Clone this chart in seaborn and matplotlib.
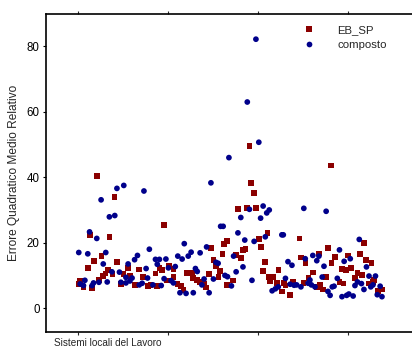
import matplotlib
matplotlib.use("Agg")
import matplotlib.pyplot as plt
import seaborn as sns
import pandas as pd

# ---- data ----
series_names = ["EB_SP", "composto"]

ebsp_x = [5.2, 3.3, 8.7, 6.5, 4.5, 2.7, 8.3, 7.6, 6.9, 0.6, 0.1, 1.5, 3.9, 5.9,
          10.1, 10.8, 13.9, 17.0, 9.6, 12.6, 14.4, 18.1, 11.9, 15.8, 19.4,
          23.9, 22.6, 23.3, 25.2, 26.5, 21.5, 30.2, 24.8, 27.6, 28.5, 21.9, 20.1, 29.3, 26.5,
          41.3, 40.6, 37.0, 40.1, 37.6, 38.3, 39.4, 36.4, 39.0, 31.6, 31.9, 33.0, 33.9, 35.0, 35.6, 41.3,
          47.6, 48.1, 48.8, 44.4, 47.0, 49.5, 52.6, 50.2, 50.8, 46.5, 45.8, 43.9, 45.2, 52.0, 51.4, 43.1, 53.1, 53.3,
          61.5, 61.9, 63.2, 55.7, 54.1, 64.0, 55.2, 59.6, 57.2, 57.6, 56.7, 58.9, 62.6,
          70.2, 69.5, 67.0, 71.3, 74.9, 70.4, 73.3, 74.4, 65.2, 68.9, 72.6, 73.7, 66.3, 67.2, 68.1,
          79.4, 78.3, 80.0, 81.5, 75.8, 77.6, 78.9, 76.9, 82.2, 80.9, 81.9, 84.4, 83.3]
ebsp_y = [40.4, 22.3, 21.8, 15.9, 14.4, 12.3, 11.6, 10.6, 9.8, 8.3, 7.4, 6.5, 6.2, 8.6,
          34.0, 14.2, 12.2, 11.8, 10.4, 10.4, 9.8, 9.6, 7.3, 7.0, 6.8,
          25.5, 12.3, 11.6, 12.9, 11.9, 10.6, 10.8, 8.4, 7.3, 6.7, 6.7, 7.1, 5.5, 9.6,
          20.6, 19.5, 18.3, 16.5, 14.6, 12.9, 11.4, 10.5, 9.6, 10.8, 9.1, 8.6, 8.0, 7.5, 6.3, 7.0,
          49.6, 38.2, 35.1, 30.2, 30.6, 30.6, 23.0, 21.2, 18.7, 18.1, 17.7, 16.3, 15.3, 14.1, 11.4, 8.4, 9.6, 8.3,
          21.3, 15.5, 13.7, 11.6, 9.6, 9.1, 7.7, 8.0, 7.7, 6.9, 5.1, 3.9, 7.6,
          43.6, 18.3, 16.7, 15.7, 16.1, 13.9, 12.0, 11.6, 10.9, 9.6, 8.0, 7.5, 6.5, 7.1, 5.7,
          19.8, 16.5, 14.7, 13.9, 12.3, 10.8, 10.2, 9.3, 8.6, 7.5, 8.0, 5.7, 5.3]

comp_x = [0.2, 0.6, 3.2, 5.2, 6.4, 8.7, 2.7, 7.7, 7.0, 1.9, 1.5, 4.3, 3.9, 5.8, 8.1,
          10.8, 12.7, 18.3, 10.2, 19.8, 16.5, 15.7, 13.9, 18.9, 9.4, 11.5, 13.3, 15.0, 19.3, 11.9, 13.3, 14.4, 17.0, 17.8,
          29.5, 21.5, 22.6, 24.4, 22.0, 27.7, 28.9, 30.6, 25.1, 27.0, 23.9, 25.8, 26.5, 20.8, 23.1, 28.3, 30.0,
          36.9, 39.6, 40.3, 35.7, 31.4, 33.9, 38.3, 38.9, 32.6, 33.1, 40.8, 41.5, 35.0, 37.6, 34.4, 32.0, 36.4,
          49.4, 47.0, 50.2, 41.9, 47.6, 51.4, 52.4, 53.1, 45.2, 50.7, 44.4, 46.3, 48.9, 52.0, 43.2, 45.8, 43.9, 48.3, 42.6,
          62.7, 56.6, 57.0, 63.1, 58.3, 59.4, 57.6, 58.9, 60.0, 60.7, 61.9, 63.9, 55.6, 54.8, 53.9,
          68.9, 72.6, 65.2, 66.9, 66.3, 73.9, 75.6, 68.3, 67.8, 72.0, 64.4, 64.8, 65.8, 69.4, 70.0, 71.1, 70.6, 73.3, 74.6, 75.2, 76.4,
          78.1, 80.1, 80.8, 82.6, 77.6, 76.9, 78.7, 79.4, 81.3, 81.9, 83.9, 83.1, 84.4]
comp_y = [17.0, 7.4, 23.3, 21.3, 33.1, 27.9, 16.6, 17.0, 13.5, 8.5, 6.9, 7.7, 6.9, 7.9, 8.0,
          36.6, 37.5, 35.8, 28.3, 18.0, 16.1, 14.8, 13.5, 12.1, 11.1, 11.0, 9.4, 9.2, 9.2, 7.9, 7.7, 8.3, 7.1, 7.6,
          19.7, 14.9, 14.9, 15.0, 13.4, 15.9, 15.0, 15.9, 12.3, 12.7, 9.0, 8.4, 7.7, 7.1, 6.9, 4.7, 4.5,
          38.3, 25.0, 25.0, 18.7, 17.1, 16.9, 14.0, 13.7, 12.1, 11.2, 10.0, 9.6, 8.9, 8.9, 7.1, 4.7, 4.7,
          82.2, 63.0, 50.7, 46.0, 30.2, 31.2, 29.1, 30.0, 27.7, 27.5, 23.0, 20.8, 20.4, 21.8, 15.9, 12.6, 11.1, 8.5, 6.8,
          30.5, 22.4, 22.4, 15.1, 14.2, 13.1, 9.1, 7.3, 7.0, 7.1, 6.5, 7.6, 6.5, 5.9, 5.3,
          29.6, 17.8, 16.1, 15.9, 14.5, 14.3, 15.1, 12.8, 9.5, 9.1, 8.6, 7.1, 6.5, 5.1, 3.9, 6.7, 6.5, 3.5, 3.9, 4.3, 3.7,
          21.0, 12.6, 9.8, 9.8, 8.0, 6.9, 7.5, 5.7, 6.5, 7.1, 6.7, 4.1, 3.5]

y_ticks = [0, 20, 40, 60, 80]
x_ticks = [0, 25, 50, 75]
y_label = "Errore Quadratico Medio Relativo"
x_label = "Sistemi locali del Lavoro"

# ---- build table ----
df = pd.concat([
    pd.DataFrame({"sll": ebsp_x, "valore": ebsp_y, "serie": series_names[0]}),
    pd.DataFrame({"sll": comp_x, "valore": comp_y, "serie": series_names[1]}),
], ignore_index=True)

sns.set_style("white")
plt.rcParams["font.family"] = ["Liberation Sans", "DejaVu Sans"]

W, H = 412, 349
fig = plt.figure(figsize=(W / 100, H / 100), dpi=100)
ax = fig.add_axes([46 / W, 1 - 332 / H, (414 - 46) / W, (332 - 14) / H])

palette = {"EB_SP": "#8B0000", "composto": "#00008B"}
markers = {"EB_SP": "s", "composto": "o"}
sns.scatterplot(data=df, x="sll", y="valore", hue="serie", style="serie",
                hue_order=series_names, style_order=series_names,
                palette=palette, markers=markers, s=17, linewidth=0,
                ax=ax, legend=True)

ax.set_xlim(-8.9, 93.3)
ax.set_ylim(-7.3, 89.9)
ax.set_yticks(y_ticks)
ax.set_xticks(x_ticks)
ax.set_xticklabels([])
ax.set_xlabel("")
ax.set_ylabel(y_label, fontsize=8.6, labelpad=5)
ax.tick_params(axis="y", which="both", left=True, length=2.5, width=0.8,
               labelsize=8.3, pad=2, colors="black")
ax.tick_params(axis="x", which="both", bottom=True, top=True, length=2.5,
               width=0.8, direction="out")
for side in ["left", "top", "bottom"]:
    ax.spines[side].set_visible(True)
    ax.spines[side].set_color("black")
    ax.spines[side].set_linewidth(1.2)
ax.spines["right"].set_visible(False)

handles, labels = ax.get_legend_handles_labels()
ax.legend(handles, labels, loc="upper left",
          bbox_to_anchor=(298 / W, 1 - 25 / H), bbox_transform=fig.transFigure,
          frameon=False, fontsize=8.2, borderaxespad=0, borderpad=0,
          handlelength=2.0, handletextpad=1.45, labelspacing=0.45)

fig.text(54 / W, 1 - 338 / H, x_label, fontsize=7.2, ha="left", va="top")

fig.savefig("out.png", dpi=100)
